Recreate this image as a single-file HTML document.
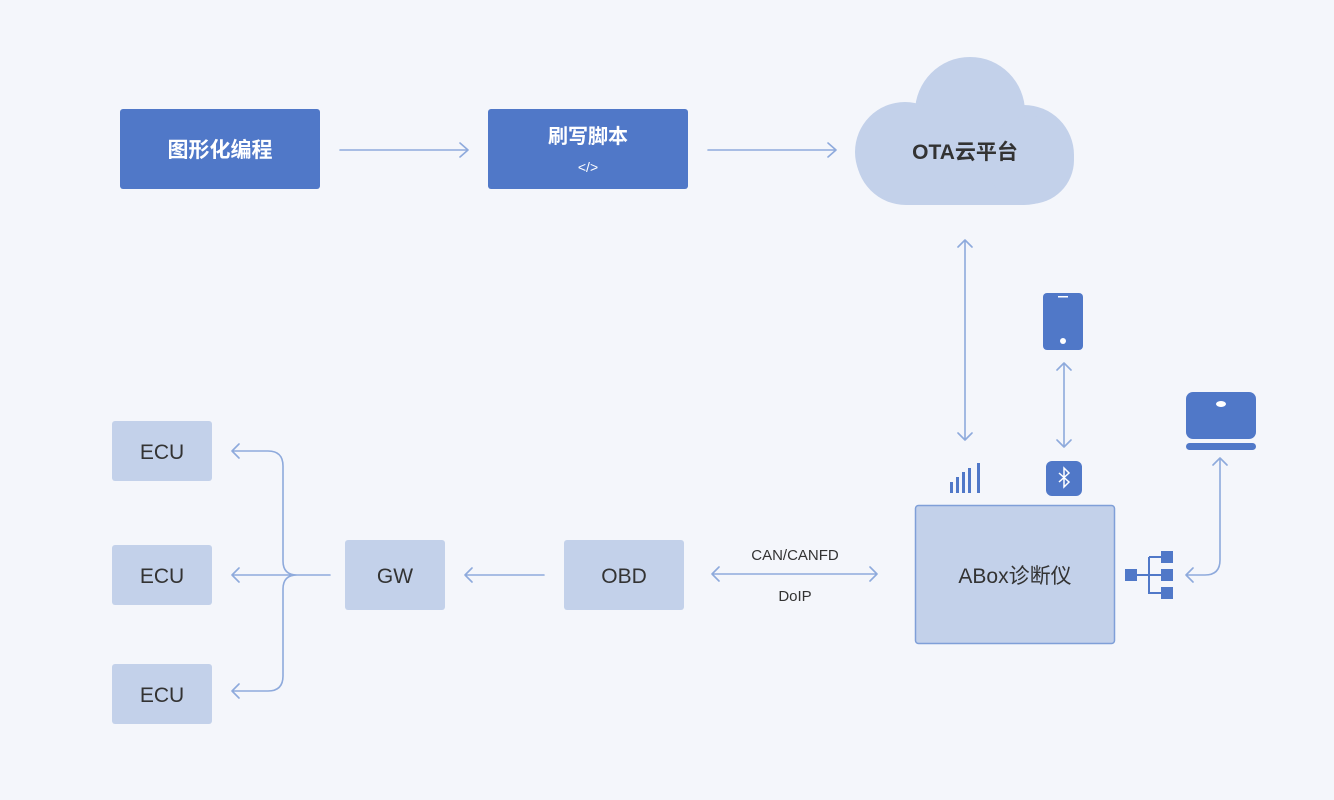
<!DOCTYPE html>
<html><head><meta charset="utf-8"><style>
html,body{margin:0;padding:0;background:#f4f6fb;}
svg{display:block;font-family:"Liberation Sans","Noto Sans CJK SC",sans-serif;}
</style></head><body>
<svg width="1334" height="800" viewBox="0 0 1334 800">
<rect width="1334" height="800" fill="#f4f6fb"/>
<g fill="none" stroke="#8eaadc" stroke-width="1.6" stroke-linecap="round" stroke-linejoin="round">
<path d="M340 150H468M460 143l8 7-8 7"/>
<path d="M708 150H836M828 143l8 7-8 7"/>
<path d="M965 240V440M958 247l7-7 7 7M958 433l7 7 7-7"/>
<path d="M1064 363V447M1057 370l7-7 7 7M1057 440l7 7 7-7"/>
<path d="M712 574H877M719 567l-7 7 7 7M870 567l7 7-7 7"/>
<path d="M544 575H465M472 568l-7 7 7 7"/>
<path d="M330 575H290M297 575q-14 0-14-14V466q0-15-15-15H232M239 444l-7 7 7 7M297 575q-14 0-14 14V676q0 15-15 15H232M239 684l-7 7 7 7M290 575H232M239 568l-7 7 7 7"/>
<path d="M1186 575H1205q15 0 15-15V458M1213 465l7-7 7 7M1193 568l-7 7 7 7"/>
</g>
<rect x="120" y="109" width="200" height="80" rx="3" fill="#5078c8"/>
<text x="220" y="157" font-size="21" fill="#fff" text-anchor="middle" font-weight="bold">图形化编程</text>
<rect x="488" y="109" width="200" height="80" rx="3" fill="#5078c8"/>
<text x="588" y="143" font-size="20" fill="#fff" text-anchor="middle" font-weight="bold">刷写脚本</text>
<text x="588" y="172" font-size="14" fill="#fff" text-anchor="middle">&lt;/&gt;</text>
<g fill="#c3d1ea">
<rect x="856" y="105" width="218" height="100" rx="50"/>
<circle cx="970" cy="112" r="55"/>
<circle cx="1030" cy="160" r="44"/>
<circle cx="905" cy="152" r="50"/>
</g>
<text x="965" y="159" font-size="21" fill="#333" text-anchor="middle" font-weight="bold">OTA云平台</text>
<g fill="#c3d1ea">
<rect x="112" y="421" width="100" height="60" rx="3"/>
<rect x="112" y="545" width="100" height="60" rx="3"/>
<rect x="112" y="664" width="100" height="60" rx="3"/>
<rect x="345" y="540" width="100" height="70" rx="3"/>
<rect x="564" y="540" width="120" height="70" rx="3"/>
</g>
<rect x="915.5" y="505.5" width="199" height="138" rx="3" fill="#c3d1ea" stroke="#7f9fd8" stroke-width="1.5"/>
<g font-size="21" fill="#333" text-anchor="middle">
<text x="162" y="459">ECU</text>
<text x="162" y="583">ECU</text>
<text x="162" y="702">ECU</text>
<text x="395" y="583">GW</text>
<text x="624" y="583">OBD</text>
<text x="1015" y="583">ABox诊断仪</text>
</g>
<text x="795" y="560" font-size="15" fill="#333" text-anchor="middle">CAN/CANFD</text>
<text x="795" y="601" font-size="15" fill="#333" text-anchor="middle">DoIP</text>
<g fill="#5078c8">
<rect x="1043" y="293" width="40" height="57" rx="4"/>
<rect x="1046" y="461" width="36" height="35" rx="6"/>
<rect x="950" y="482" width="3" height="11"/><rect x="956" y="477" width="3" height="16"/><rect x="962" y="472" width="3" height="21"/><rect x="968" y="468" width="3" height="25"/><rect x="977" y="463" width="3" height="30"/>
<rect x="1186" y="392" width="70" height="47" rx="7"/>
<rect x="1186" y="443" width="70" height="7" rx="3.5"/>
<rect x="1125" y="569" width="12" height="12"/>
<rect x="1161" y="551" width="12" height="12"/><rect x="1161" y="569" width="12" height="12"/><rect x="1161" y="587" width="12" height="12"/>
</g>
<g stroke="#5078c8" stroke-width="2" fill="none"><path d="M1137 575H1161M1149 557V593H1161M1149 557H1161"/></g>
<rect x="1058" y="296" width="10" height="1.5" fill="#fff"/>
<circle cx="1063" cy="341" r="3" fill="#fff"/>
<ellipse cx="1221" cy="404" rx="5" ry="3" fill="#fff"/>
<path d="M1059 473l10 9-5 5V468l5 5-10 9" stroke="#fff" stroke-width="1.5" fill="none"/>
</svg>
</body></html>
